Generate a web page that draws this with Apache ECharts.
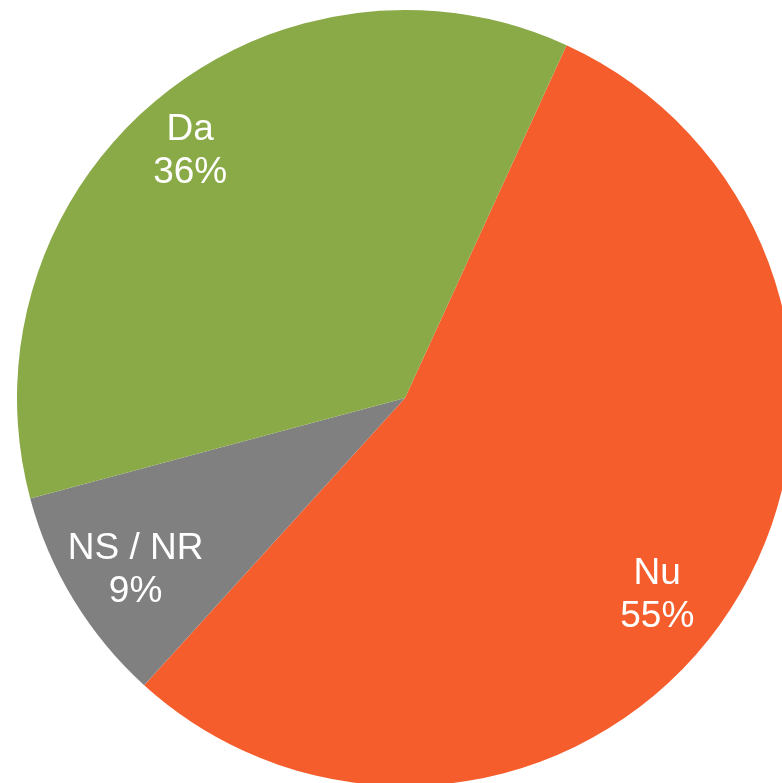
<!DOCTYPE html>
<html>
<head>
<meta charset="utf-8">
<script src="https://cdn.jsdelivr.net/npm/echarts@6/dist/echarts.min.js"></script>
<style>
  html, body { margin: 0; padding: 0; background: #fff; }
  #chart { width: 782px; height: 783px; }
</style>
</head>
<body>
<div id="chart"></div>
<script>
// slice names and shares (clockwise from the top)
const categories = ['Nu', 'NS / NR', 'Da'];
const values = [54.9, 9.1, 36.0];
const colors = ['#F55E2C', '#808080', '#8AAA48'];

// small label nudges so they sit like the original's "best fit" labels
const labelNudge = [[-19, 18], [8, 3], [-5, 2]];

const data = categories.map((name, i) => ({
  name: name,
  value: values[i],
  itemStyle: { color: colors[i] }
}));

const chart = echarts.init(document.getElementById('chart'));

const option = {
  animation: false,
  series: [
    {
      // the pie itself
      type: 'pie',
      center: [405, 398],
      radius: [0, 388],
      startAngle: 65.4,
      clockwise: true,
      silent: true,
      label: { show: false },
      labelLine: { show: false },
      itemStyle: { borderWidth: 0 },
      data: data
    },
    {
      // invisible ring, only used to put the labels further out
      type: 'pie',
      center: [405, 398],
      radius: [256, 388],
      startAngle: 65.4,
      clockwise: true,
      silent: true,
      itemStyle: { color: 'rgba(0,0,0,0)', borderWidth: 0 },
      labelLine: { show: false },
      label: {
        show: true,
        position: 'inside',
        color: '#fff',
        fontFamily: 'Liberation Sans, Arial, sans-serif',
        fontSize: 37,
        lineHeight: 43,
        formatter: (p) => p.name + '\n' + Math.round(p.percent) + '%'
      },
      labelLayout: (params) => ({
        dx: labelNudge[params.dataIndex][0],
        dy: labelNudge[params.dataIndex][1]
      }),
      data: categories.map((name, i) => ({ name: name, value: values[i] }))
    }
  ]
};

chart.setOption(option);
</script>
</body>
</html>
